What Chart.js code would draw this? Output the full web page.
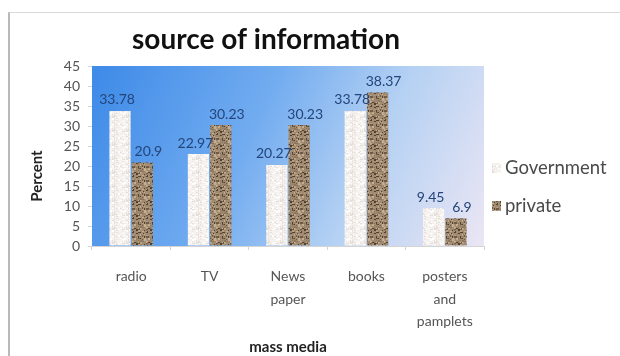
<!DOCTYPE html>
<html>
<head>
<meta charset="utf-8">
<script src="https://cdn.jsdelivr.net/npm/chart.js@4"></script>
<style>
  body { margin: 0; background: #fff; }
  #wrap { position: relative; width: 620px; height: 356px; overflow: hidden; }
  .frame { position: absolute; left: 8px; top: 12px; right: 0; bottom: 0;
           border-left: 2px solid #b9b9b9; border-top: 1px solid #d9d9d9; }
  canvas { position: absolute; left: 0; top: 0; }
</style>
</head>
<body>
<div id="wrap">
  <div class="frame"></div>
  <canvas id="myChart" width="620" height="356"></canvas>
</div>
<script>
// datos del gráfico
const chartTitle = 'source of information';
const yAxisTitle = 'Percent';
const xAxisTitle = 'mass media';
const categories = ['radio', 'TV', ['News', 'paper'], 'books', ['posters', 'and', 'pamplets']];
const seriesNames = ['Government', 'private'];
const governmentValues = [33.78, 22.97, 20.27, 33.78, 9.45];
const privateValues = [20.9, 30.23, 30.23, 38.37, 6.9];
const yMin = 0;
const yMax = 45;
const yStep = 5;

// textura moteada (determinista) para las barras
function makeSpeckle(base, specks, seed) {
    const c = document.createElement('canvas');
    c.width = 14; c.height = 14;
    const g = c.getContext('2d');
    g.fillStyle = base;
    g.fillRect(0, 0, 14, 14);
    let s = seed;
    for (let i = 0; i < 60; i++) {
        s = (s * 1103515245 + 12345) % 2147483648;
        const x = s % 14;
        const y = Math.floor(s / 14) % 14;
        g.fillStyle = specks[i % specks.length];
        g.fillRect(x, y, 1 + (i % 2), 1 + (i % 3 === 0 ? 1 : 0));
    }
    return g.createPattern(c, 'repeat');
}

const ctx = document.getElementById('myChart').getContext('2d');
const govFill = makeSpeckle('#f5f2f0', ['#e8dfd8', '#ffffff', '#f0e4da', '#e2dfdc'], 7);
const privFill = makeSpeckle('#a08a70', ['#6f5a45', '#c4ad90', '#4f4234', '#8c7660', '#b89e80'], 11);

// fondo degradado del área de trazado
const plotBackground = {
    id: 'plotBackground',
    beforeDraw(chart) {
        const { ctx, chartArea: a } = chart;
        const grad = ctx.createLinearGradient(a.left, a.top, a.right, a.bottom);
        grad.addColorStop(0, '#3d8ae8');
        grad.addColorStop(0.4, '#72acf0');
        grad.addColorStop(0.68, '#b5d1f3');
        grad.addColorStop(1, '#ebe6f4');
        ctx.save();
        ctx.fillStyle = grad;
        ctx.fillRect(a.left, a.top, a.right - a.left, a.bottom - a.top);
        ctx.restore();
    }
};

// etiquetas de valores, título y leyenda
const labelOffsets = [-3, 6];
const extras = {
    id: 'extras',
    afterDatasetsDraw(chart) {
        const ctx = chart.ctx;
        ctx.save();
        ctx.font = '14px Lato';
        ctx.fillStyle = '#24457a';
        ctx.textAlign = 'center';
        ctx.textBaseline = 'middle';
        chart.data.datasets.forEach((ds, i) => {
            chart.getDatasetMeta(i).data.forEach((bar, j) => {
                ctx.fillText(String(ds.data[j]), bar.x + labelOffsets[i], bar.y - 11);
            });
        });
        ctx.restore();
    },
    afterDraw(chart) {
        const ctx = chart.ctx;
        ctx.save();
        ctx.fillStyle = '#111';
        ctx.font = 'bold 28px Lato';
        ctx.textAlign = 'center';
        ctx.textBaseline = 'middle';
        ctx.fillText(chartTitle, 266, 40);

        ctx.translate(37, 176);
        ctx.rotate(-Math.PI / 2);
        ctx.font = 'bold 15px Lato';
        ctx.fillStyle = '#222';
        ctx.fillText(yAxisTitle, 0, 0);
        ctx.restore();

        ctx.save();
        ctx.font = '18.5px Lato';
        ctx.textBaseline = 'middle';
        chart.data.datasets.forEach((ds, i) => {
            const y = 168 + i * 38;
            ctx.fillStyle = ds.backgroundColor;
            ctx.fillRect(492, y - 5, 9, 10);
            ctx.fillStyle = '#4a4a4a';
            ctx.fillText(ds.label, 505, y);
        });
        ctx.restore();
    }
};

const myChart = new Chart(ctx, {
    type: 'bar',
    data: {
        labels: categories,
        datasets: [{
            label: seriesNames[0],
            data: governmentValues,
            backgroundColor: govFill,
            borderWidth: 0,
            categoryPercentage: 0.57,
            barPercentage: 0.95,
        }, {
            label: seriesNames[1],
            data: privateValues,
            backgroundColor: privFill,
            borderWidth: 0,
            categoryPercentage: 0.57,
            barPercentage: 0.95,
        }],
    },
    plugins: [plotBackground, extras],
    options: {
        responsive: false,
        animation: false,
        devicePixelRatio: 1,
        layout: { padding: { left: 0, top: 66, right: 136, bottom: 0 } },
        plugins: {
            legend: { display: false },
            title: { display: false },
            tooltip: { enabled: false },
        },
        scales: {
            x: {
                afterFit(scale) { scale.height = 110; },
                grid: { drawOnChartArea: false, drawTicks: true, tickLength: 4, color: '#d4d4d4', offset: true },
                border: { color: '#d4d4d4' },
                ticks: {
                    color: '#555',
                    padding: 15,
                    font: { family: 'Lato', size: 14, lineHeight: 1.62 },
                },
                title: {
                    display: true,
                    text: xAxisTitle,
                    color: '#222',
                    padding: 0,
                    font: { family: 'Lato', size: 15, weight: 'bold' },
                },
            },
            y: {
                min: yMin,
                max: yMax,
                afterFit(scale) { scale.width = 92; },
                grid: { drawOnChartArea: false, drawTicks: true, tickLength: 4, color: '#d4d4d4' },
                border: { display: false },
                ticks: {
                    stepSize: yStep,
                    color: '#555',
                    padding: 8,
                    font: { family: 'Lato', size: 14 },
                },
            },
        },
    },
});
</script>
</body>
</html>
